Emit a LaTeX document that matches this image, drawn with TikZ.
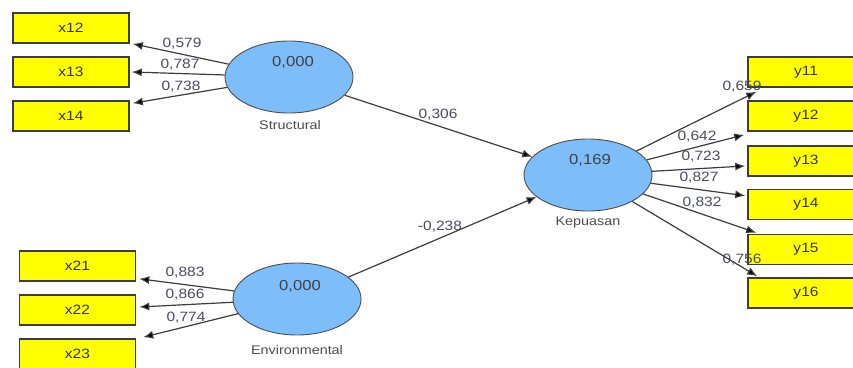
\documentclass[tikz,border=0pt]{standalone}
\usepackage{fontspec}
\setmainfont[FakeStretch=1.15]{Liberation Sans}
\usetikzlibrary{shapes.geometric,arrows.meta,calc}
\definecolor{boxyellow}{RGB}{255,255,0}
\definecolor{lvblue}{RGB}{125,190,250}
\definecolor{linegray}{RGB}{60,60,60}
\definecolor{labgray}{RGB}{75,75,95}
\begin{document}
\begin{tikzpicture}[x=1pt,y=-1pt,
  ibox/.style={draw=linegray,line width=1.6pt,fill=boxyellow,minimum width=116pt,minimum height=30pt,inner sep=0pt,font=\fontsize{13.5}{15}\selectfont,text=black!80},
  lv/.style={ellipse,draw=black!70,line width=0.9pt,fill=lvblue,minimum width=128pt,minimum height=72pt,inner sep=0pt},
  val/.style={font=\fontsize{14.5}{16}\selectfont,text=black!75,inner sep=0pt},
  lvname/.style={font=\fontsize{12.5}{14}\selectfont,text=black!70,inner sep=0pt},
  wt/.style={font=\fontsize{13.5}{15}\selectfont,text=labgray,inner sep=0pt},
  conn/.style={draw=linegray,line width=1.2pt,-{Latex[length=10pt,width=8pt,fill=black]}}]
\useasboundingbox (0,0) rectangle (853,367);
\clip (0,0) rectangle (853,367);
% indicator boxes, left
\node[ibox] (x12) at (71,28) {x12};
\node[ibox] (x13) at (71,72) {x13};
\node[ibox] (x14) at (71,116) {x14};
\node[ibox] (x21) at (77.5,266) {x21};
\node[ibox] (x22) at (77.5,310) {x22};
\node[ibox] (x23) at (77.5,354) {x23};
% indicator boxes, right
\node[ibox] (y11) at (806,72) {y11};
\node[ibox] (y12) at (806,116) {y12};
\node[ibox] (y13) at (806,161) {y13};
\node[ibox] (y14) at (806,204.5) {y14};
\node[ibox] (y15) at (806,249.5) {y15};
\node[ibox] (y16) at (806,293) {y16};
% latent variables
\node[lv] (S) at (289,77) {};
\node[lv] (E) at (297,299) {};
\node[lv] (K) at (588,175) {};
\node[val] (Sv) at (293,62) {0,000};
\node[val] (Ev) at (300,286) {0,000};
\node[val] (Kv) at (590,160) {0,169};
\node[lvname] (Sn) at (290,125) {Structural};
\node[lvname] (En) at (297,350) {Environmental};
\node[lvname] (Kn) at (588,222) {Kepuasan};
% connectors
\draw[conn] (S) -- ($(x12.south east)+(3pt,0pt)$);
\draw[conn] (S) -- ($(x13.east)+(2pt,0pt)$);
\draw[conn] (S) -- ($(x14.north east)+(3pt,-3pt)$);
\draw[conn] (E) -- ($(x21.south east)+(3pt,3pt)$);
\draw[conn] (E) -- ($(x22.east)+(3pt,3pt)$);
\draw[conn] (E) -- ($(x23.north east)+(7pt,1pt)$);
\draw[conn] (S) -- (K);
\draw[conn] (E) -- (K);
\draw[conn] (K) -- ($(y11.south west)+(9pt,-4pt)$);
\draw[conn] (K) -- ($(y12.south west)+(-3pt,-3pt)$);
\draw[conn] (K) -- ($(y13.west)+(-2pt,-5pt)$);
\draw[conn] (K) -- ($(y14.north west)+(-2pt,-7pt)$);
\draw[conn] (K) -- ($(y15.north west)+(9pt,1pt)$);
\draw[conn] (K) -- ($(y16.north west)+(10pt,1pt)$);
% weights
\node[wt] (w12) at (182,44) {0,579};
\node[wt] (w13) at (180,65) {0,787};
\node[wt] (w14) at (181,87) {0,738};
\node[wt] (w21) at (185,273) {0,883};
\node[wt] (w22) at (185,295) {0,866};
\node[wt] (w23) at (186,318) {0,774};
\node[wt] (wS) at (438,115) {0,306};
\node[wt] (wE) at (440,227) {-0,238};
\node[wt] (v11) at (742,87) {0,659};
\node[wt] (v12) at (697,137) {0,642};
\node[wt] (v13) at (701,157) {0,723};
\node[wt] (v14) at (699,178) {0,827};
\node[wt] (v15) at (702,203) {0,832};
\node[wt] (v16) at (742,260) {0,756};
\end{tikzpicture}
\end{document}
